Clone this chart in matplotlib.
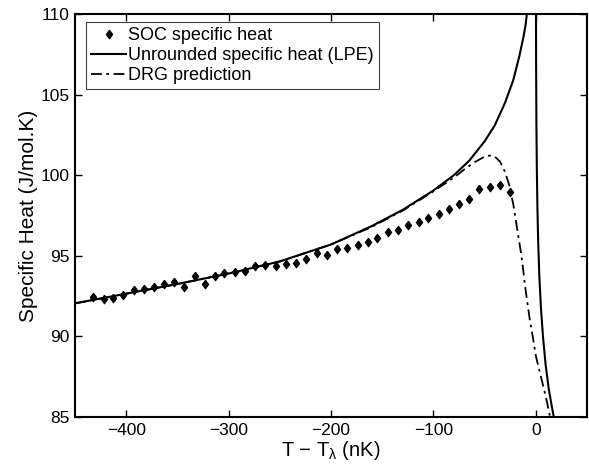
import matplotlib
matplotlib.use("Agg")
import matplotlib.pyplot as plt

plt.rcParams["font.family"] = ["Liberation Sans", "DejaVu Sans"]
plt.rcParams["mathtext.default"] = "regular"

# SOC measured specific heat (diamonds)
soc_t = [-432, -422, -413, -403, -392, -383, -373, -363, -353, -344,
         -333, -323, -313, -304, -294, -284, -274, -264, -254, -244,
         -234, -224, -214, -204, -194, -184, -174, -164, -155, -144,
         -135, -125, -114, -105, -95, -85, -75, -65, -55, -45, -35, -25]
soc_c = [92.44, 92.30, 92.38, 92.59, 92.90, 92.96, 93.06, 93.23, 93.37, 93.06,
         93.73, 93.23, 93.73, 93.93, 93.99, 94.04, 94.35, 94.41, 94.35, 94.47,
         94.55, 94.83, 95.17, 95.03, 95.45, 95.51, 95.70, 95.86, 96.13, 96.48,
         96.58, 96.89, 97.10, 97.37, 97.62, 97.93, 98.24, 98.51, 99.17, 99.27,
         99.38, 98.96]

# unrounded specific heat (LPE), below and above T_lambda
lpe_lo_t = [-450, -400, -350, -300, -250, -200, -160, -130, -100, -80,
            -65, -50, -40, -30, -22, -16, -12, -10, -8.7]
lpe_lo_c = [92.05, 92.65, 93.25, 93.9, 94.65, 95.7, 96.85, 97.85, 99.05, 100.0,
            100.9, 102.1, 103.1, 104.5, 105.9, 107.4, 108.6, 109.3, 110.0]
lpe_hi_t = [0.2, 0.3, 0.6, 1.0, 1.6, 2.4, 3.5, 5.0, 7.0, 9.5, 12.5, 15.5, 17.6]
lpe_hi_c = [110.0, 107.0, 103.2, 100.5, 97.9, 95.7, 93.7, 91.8, 90.0, 88.3,
            86.8, 85.7, 85.0]

# DRG prediction
drg_t = [-450, -400, -350, -300, -250, -200, -160, -130, -100, -80, -70, -60,
         -50, -45, -40, -35, -30, -26, -22, -18, -14, -10, -6, -3, 0, 5, 10, 14]
drg_c = [92.05, 92.65, 93.25, 93.9, 94.65, 95.7, 96.8, 97.8, 99.0, 99.85,
         100.35, 100.8, 101.15, 101.22, 101.15, 100.85, 100.2, 99.4, 98.2, 96.6,
         95.0, 92.9, 91.1, 90.0, 88.8, 87.5, 86.2, 85.0]

# MATLAB-like diamond, a bit taller than wide
diamond = [(0, 1), (0.74, 0), (0, -1), (-0.74, 0), (0, 1)]

fig = plt.figure(figsize=(5.89, 4.69), dpi=100)
ax = fig.add_axes([0.1273, 0.1109, 0.8693, 0.8592])

ax.plot(soc_t, soc_c, linestyle="none", marker=diamond, markersize=6.2,
        markeredgewidth=0.8, color="black", label="SOC specific heat")
ax.plot(lpe_lo_t, lpe_lo_c, "-", color="black", lw=1.5,
        label="Unrounded specific heat (LPE)")
ax.plot(lpe_hi_t, lpe_hi_c, "-", color="black", lw=1.5)
ax.plot(drg_t, drg_c, color="black", lw=1.3, dashes=(6, 2.5, 1.5, 2.5),
        label="DRG prediction")

ax.set_xlim(-450, 50)
ax.set_ylim(85, 110)
ax.set_xticks([-400, -300, -200, -100, 0])
ax.set_yticks([85, 90, 95, 100, 105, 110])
ax.tick_params(direction="in", top=True, right=True, length=5, width=1,
               labelsize=12.5, pad=4)
for sp in ax.spines.values():
    sp.set_linewidth(1.5)

ax.set_xlabel(r"T − T$_{\lambda}$ (nK)", fontsize=14.5, labelpad=1)
ax.set_ylabel("Specific Heat (J/mol.K)", fontsize=15, labelpad=2)

leg = ax.legend(loc="upper left", bbox_to_anchor=(0.0215, 0.98),
                borderaxespad=0, fontsize=13, fancybox=False, framealpha=1,
                edgecolor="#404040", handlelength=1.9, handletextpad=0.15,
                labelspacing=0.15, borderpad=0.3)
leg.get_frame().set_linewidth(0.8)

fig.savefig("out.png", dpi=100)
